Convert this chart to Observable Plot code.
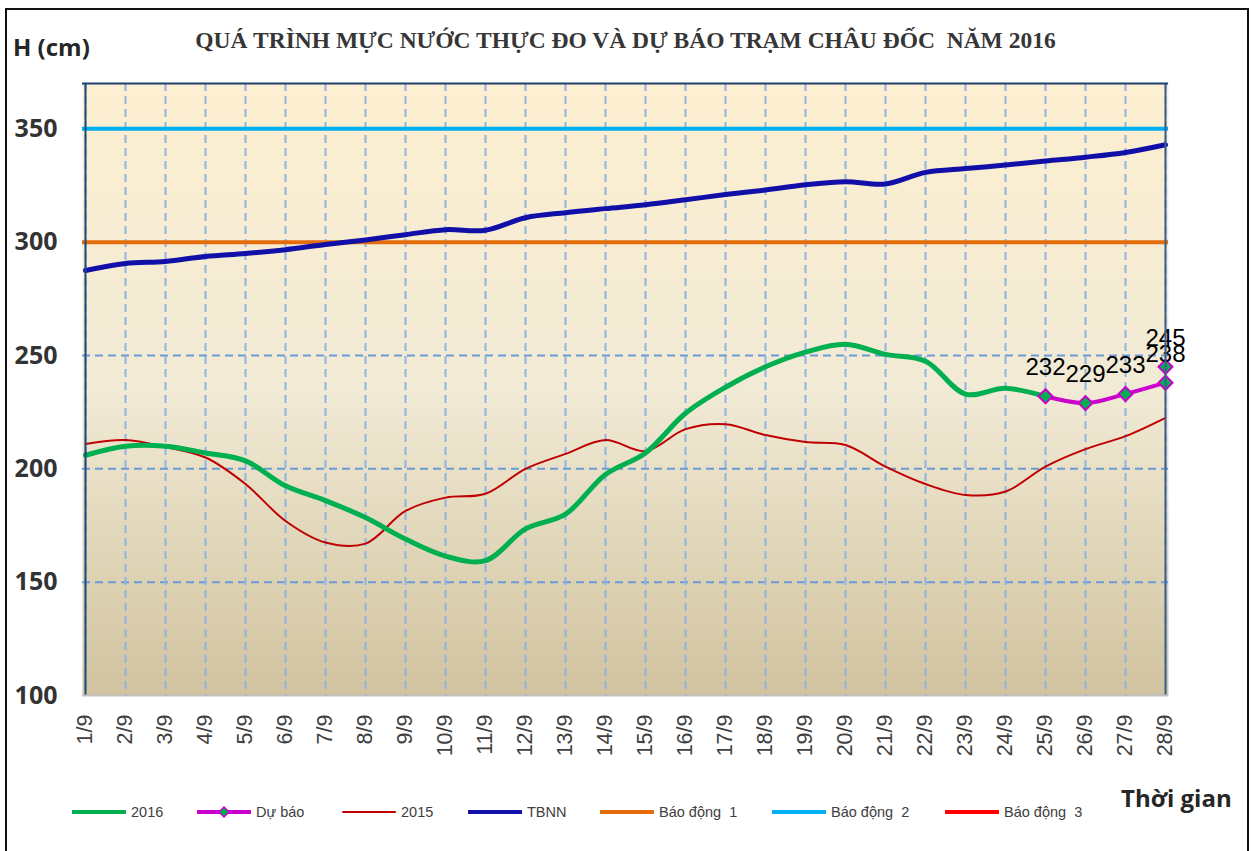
<!DOCTYPE html>
<html>
<head>
<meta charset="utf-8">
<script src="https://cdn.jsdelivr.net/npm/d3@7"></script>
<script src="https://cdn.jsdelivr.net/npm/@observablehq/plot@0.6"></script>
<style>
  body { margin: 0; background: #fff; }
  #wrap { position: relative; width: 1251px; height: 851px; overflow: hidden; font-family: "Liberation Sans", Arial, sans-serif; }
  #border { position: absolute; left: 5px; top: 8px; width: 1240px; height: 880px; border: 2px solid #111; }
  #chart { position: absolute; left: 0; top: 0; }
  #title { position: absolute; left: 0; top: 27px; width: 1251px; text-align: center; font-family: "Liberation Serif", "Times New Roman", serif; font-weight: bold; font-size: 23.5px; color: #363636; white-space: pre; }
  #ylab { position: absolute; left: 13px; top: 30px; font-family: "Open Sans", sans-serif; font-weight: bold; font-size: 24px; color: #262626; }
  #xlab { position: absolute; left: 1121px; top: 781px; font-family: "Open Sans", sans-serif; font-weight: bold; font-size: 24px; color: #262626; }
  .leg { position: absolute; top: 802px; height: 20px; display: flex; align-items: center; font-size: 14.5px; color: #404040; white-space: pre; }
  .leg svg { margin-right: 5px; }
</style>
</head>
<body>
<div id="wrap">
  <div id="border"></div>
  <div id="chart"></div>
  <div id="title">QUÁ TRÌNH MỰC NƯỚC THỰC ĐO VÀ DỰ BÁO TRẠM CHÂU ĐỐC  NĂM 2016</div>
  <div id="ylab">H (cm)</div>
  <div id="xlab">Thời gian</div>
  <div id="legend"></div>
</div>
<script>
// ---- data ----
const days = ["1/9","2/9","3/9","4/9","5/9","6/9","7/9","8/9","9/9","10/9","11/9","12/9","13/9","14/9",
              "15/9","16/9","17/9","18/9","19/9","20/9","21/9","22/9","23/9","24/9","25/9","26/9","27/9","28/9"];
const h2016 = [206, 210, 210, 207, 203.5, 192.5, 186, 178.5, 169, 161.5, 159.5, 173.5, 180, 197.5,
               207, 224.5, 236, 245, 251.5, 255, 250.5, 247.5, 233, 235.5, 232];
const h2015 = [211, 212.7, 209.6, 205, 193.3, 177, 167.5, 167, 181.4, 187.3, 189, 200, 206.6, 212.7,
               207.8, 217.5, 219.7, 214.9, 211.8, 210.5, 201, 193.3, 188.5, 190, 201, 208.7, 214.4, 222.5];
const tbnn = [287.5, 290.6, 291.5, 293.7, 295, 296.7, 299, 301, 303.3, 305.5, 305.3, 310.8, 313, 314.8,
              316.5, 318.7, 321, 323, 325.3, 326.7, 325.7, 330.8, 332.5, 334, 335.8, 337.5, 339.6, 343];
const forecastDays = ["25/9","26/9","27/9","28/9"];
const forecast = [232, 229, 233, 238];
const forecastExtraDay = "28/9";
const forecastExtra = 245;
const baoDong1 = 300, baoDong2 = 350, baoDong3 = 400;
const yTicks = [100, 150, 200, 250, 300, 350];
const yGrid = [150, 200, 250, 300, 350];

const C2016 = "#00B050", CFC = "#CC00CC", C2015 = "#C00000", CTB = "#1010A8",
      CBD1 = "#E46C0A", CBD2 = "#00B0F0", CBD3 = "#FF0000";

const fcPts = forecastDays.map((d, i) => ({d, v: forecast[i]})).concat([{d: forecastExtraDay, v: forecastExtra}]);

const plot = Plot.plot({
  width: 1251, height: 851,
  marginLeft: 82, marginRight: 83, marginTop: 83, marginBottom: 156,
  style: {background: "transparent", fontFamily: "Liberation Sans, Arial, sans-serif"},
  x: {type: "point", domain: days, padding: 0},
  y: {domain: [100, 370]},
  marks: [
    Plot.frame({fill: "url(#bgGrad)", stroke: null}),
    Plot.ruleY(yGrid, {stroke: "#6B9BD6", strokeWidth: 2, strokeDasharray: "8,5"}),
    Plot.ruleX(days, {x: d => d, stroke: "#8DB4E2", strokeWidth: 2, strokeDasharray: "8,5"}),
    Plot.ruleY([baoDong1], {stroke: CBD1, strokeWidth: 4}),
    Plot.ruleY([baoDong2], {stroke: CBD2, strokeWidth: 4}),
    Plot.line(tbnn, {x: days, y: tbnn, stroke: CTB, strokeWidth: 5, curve: "catmull-rom"}),
    Plot.line(h2015, {x: days.slice(0, h2015.length), y: h2015, stroke: C2015, strokeWidth: 2, curve: "catmull-rom"}),
    Plot.line(h2016, {x: days.slice(0, h2016.length), y: h2016, stroke: C2016, strokeWidth: 5, curve: "catmull-rom"}),
    Plot.line(forecast, {x: forecastDays, y: forecast, stroke: CFC, strokeWidth: 4, curve: "catmull-rom"}),
    Plot.dot(fcPts, {x: "d", y: "v", symbol: "square", rotate: 45, r: 5.6, fill: C2016, stroke: CFC, strokeWidth: 2}),
    Plot.text(fcPts, {x: "d", y: "v", text: d => String(d.v), dy: -21, lineAnchor: "bottom", fontSize: 24, fill: "#000"}),
    Plot.ruleX([days[0]], {stroke: "#1F497D", strokeWidth: 2}),
    Plot.ruleX([days[days.length - 1]], {stroke: "#3A5F8F", strokeWidth: 2}),
    Plot.ruleY([370], {stroke: "#1F3F6F", strokeWidth: 2}),
    Plot.ruleY([100], {stroke: "#BFBFBF", strokeWidth: 2}),
    Plot.axisX({tickSize: 0, tickPadding: 19, tickRotate: -90, fontSize: 21.5, color: "#404040", label: null}),
    Plot.axisY({ticks: yTicks, tickSize: 0, tickPadding: 25, fontSize: 25, fontWeight: "bold", fontFamily: "Open Sans", color: "#333333", label: null})
  ]
});

// make sure x tick labels use the intended size
d3.select(plot).selectAll('g[aria-label="x-axis tick label"]').attr("font-size", 21.5);

// gradient background for plot area
const defs = d3.select(plot).insert("defs", ":first-child");
const g = defs.append("linearGradient").attr("id", "bgGrad").attr("x1", 0).attr("y1", 0).attr("x2", 0).attr("y2", 1);
g.append("stop").attr("offset", "0%").attr("stop-color", "#FDEFD1");
g.append("stop").attr("offset", "50%").attr("stop-color", "#F1EAD5");
g.append("stop").attr("offset", "100%").attr("stop-color", "#D1C39F");

document.getElementById("chart").appendChild(plot);

// legend
const legendItems = [
  {label: "2016", color: C2016, w: 4, x: 72},
  {label: "Dự báo", color: CFC, w: 4, x: 197, marker: true},
  {label: "2015", color: C2015, w: 2, x: 342},
  {label: "TBNN", color: CTB, w: 4, x: 468},
  {label: "Báo động  1", color: CBD1, w: 4, x: 600},
  {label: "Báo động  2", color: CBD2, w: 4, x: 772},
  {label: "Báo động  3", color: CBD3, w: 4, x: 945}
];
const leg = document.getElementById("legend");
for (const it of legendItems) {
  const div = document.createElement("div");
  div.className = "leg";
  div.style.left = it.x + "px";
  const ns = "http://www.w3.org/2000/svg";
  const s = document.createElementNS(ns, "svg");
  s.setAttribute("width", 54); s.setAttribute("height", 14);
  const ln = document.createElementNS(ns, "line");
  ln.setAttribute("x1", 1); ln.setAttribute("x2", 53); ln.setAttribute("y1", 7); ln.setAttribute("y2", 7);
  ln.setAttribute("stroke", it.color); ln.setAttribute("stroke-width", it.w); ln.setAttribute("stroke-linecap", "round");
  s.appendChild(ln);
  if (it.marker) {
    const p = document.createElementNS(ns, "path");
    p.setAttribute("d", "M27,2 L32,7 L27,12 L22,7 Z");
    p.setAttribute("fill", C2016); p.setAttribute("stroke", CFC); p.setAttribute("stroke-width", 1.5);
    s.appendChild(p);
  }
  div.appendChild(s);
  const t = document.createElement("span");
  t.textContent = it.label;
  div.appendChild(t);
  leg.appendChild(div);
}
</script>
</body>
</html>
